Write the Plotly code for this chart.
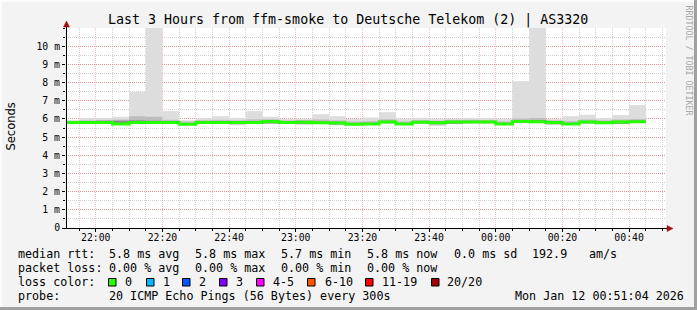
import plotly.graph_objects as go
import pandas as pd

# ---------------- data ----------------
title_text = "Last 3 Hours from ffm-smoke to Deutsche Telekom (2) | AS3320"
step_start = pd.date_range("2026-01-11 21:50:00", periods=35, freq="5min")
range_start = "2026-01-11 21:51:04"
range_end = "2026-01-12 00:51:04"

# smoke envelope per 5-min step (ms)
smoke_max = [5.93, 6.04, 6.04, 6.12, 7.49, 11.0, 6.43, 5.93, 6.04, 6.15,
             6.06, 6.43, 6.12, 6.00, 6.02, 6.26, 6.15, 6.00, 6.08, 6.37,
             6.02, 6.06, 6.02, 6.02, 6.06, 6.04, 6.02, 8.08, 11.0, 6.00,
             6.15, 6.23, 6.04, 6.21, 6.76]
smoke_hi = [5.89, 5.92, 5.93, 5.96, 6.15, 6.12, 5.95, 5.86, 5.93, 5.95,
            5.92, 5.98, 5.98, 5.92, 5.94, 5.97, 5.92, 5.86, 5.88, 5.98,
            5.86, 5.93, 5.90, 5.95, 5.95, 5.94, 5.86, 6.02, 6.05, 5.92,
            5.88, 5.97, 5.92, 5.97, 5.99]
dark_hi = [5.85, 5.86, 5.90, 5.90, 5.92, 5.90, 5.86, 5.77, 5.86, 5.86,
           5.86, 5.88, 5.92, 5.86, 5.88, 5.86, 5.84, 5.77, 5.78, 5.90,
           5.78, 5.87, 5.85, 5.89, 5.89, 5.89, 5.78, 5.93, 5.94, 5.86,
           5.78, 5.89, 5.85, 5.89, 5.91]
median_rtt = [5.80, 5.80, 5.80, 5.72, 5.80, 5.80, 5.80, 5.71, 5.80, 5.80,
              5.80, 5.80, 5.86, 5.80, 5.82, 5.79, 5.78, 5.71, 5.72, 5.83,
              5.72, 5.81, 5.79, 5.83, 5.83, 5.83, 5.72, 5.86, 5.85, 5.80,
              5.72, 5.83, 5.79, 5.83, 5.84]
dark_lo = [5.75, 5.75, 5.75, 5.68, 5.74, 5.74, 5.75, 5.67, 5.75, 5.75,
           5.74, 5.75, 5.75, 5.75, 5.72, 5.74, 5.70, 5.67, 5.68, 5.77,
           5.67, 5.76, 5.72, 5.74, 5.77, 5.77, 5.68, 5.79, 5.78, 5.72,
           5.67, 5.76, 5.73, 5.74, 5.78]
smoke_lo = [5.75, 5.75, 5.75, 5.68, 5.74, 5.74, 5.75, 5.67, 5.75, 5.75,
            5.70, 5.75, 5.75, 5.75, 5.71, 5.74, 5.69, 5.67, 5.68, 5.77,
            5.67, 5.76, 5.68, 5.73, 5.77, 5.77, 5.68, 5.78, 5.78, 5.70,
            5.67, 5.76, 5.73, 5.72, 5.78]
smoke_min = [5.74, 5.73, 5.73, 5.67, 5.72, 5.72, 5.73, 5.66, 5.73, 5.73,
             5.65, 5.73, 5.74, 5.73, 5.69, 5.72, 5.64, 5.66, 5.67, 5.75,
             5.66, 5.74, 5.60, 5.71, 5.75, 5.75, 5.67, 5.76, 5.76, 5.66,
             5.66, 5.74, 5.71, 5.70, 5.76]

y_tickvals = [0, 1, 2, 3, 4, 5, 6, 7, 8, 9, 10]
y_ticktext = ["0", "1 m", "2 m", "3 m", "4 m", "5 m", "6 m", "7 m", "8 m", "9 m", "10 m"]

legend_rows = [
    [("median rtt:", 16), ("5.8 ms avg", 107), ("5.8 ms max", 193), ("5.7 ms min", 279),
     ("5.8 ms now", 365), ("0.0 ms sd", 452), ("192.9", 530), ("am/s", 587)],
    [("packet loss:", 16), ("0.00 % avg", 107), ("0.00 % max", 193), ("0.00 % min", 279),
     ("0.00 % now", 365)],
    [("loss color:", 16)],
    [("probe:", 16), ("20 ICMP Echo Pings (56 Bytes) every 300s", 107),
     ("Mon Jan 12 00:51:04 2026", 513)],
]
loss_labels = ["0", "1", "2", "3", "4-5", "6-10", "11-19", "20/20"]
loss_colors = ["#26ff00", "#00b8ff", "#0059ff", "#7e00ff", "#ff00ff", "#ff5500", "#ff0000", "#a10000"]
loss_box_x = [108, 146, 182, 219, 256, 307, 365, 431]
loss_text_x = [123, 160.5, 197, 234, 271, 322.5, 380, 445]

# ---------------- geometry helpers (layout only) ----------------
L, R, T, B = 66, 666, 28, 228
W, H = 697, 310


def px(xp):
    return (xp - L) / (R - L)


def py(yp):
    return (B - yp) / (B - T)


MONO = "DejaVu Sans Mono"
centers = step_start + pd.Timedelta(minutes=2.5)
step_ms = 300000
MAJOR_GRID = "rgba(255,0,0,0.27)"
MINOR_GRID = "#d2d2d2"

fig = go.Figure()


def band(lo, hi, color):
    fig.add_trace(go.Bar(
        x=centers, base=lo, y=[h - l for l, h in zip(lo, hi)], width=step_ms,
        marker=dict(color=color, line=dict(width=0)), hoverinfo="skip", showlegend=False))


band(smoke_min, smoke_max, "#dddddd")
band(smoke_lo, smoke_hi, "#bdbdbd")
band(dark_lo, dark_hi, "#8a8a8a")

fig.add_trace(go.Scatter(
    x=list(step_start) + [step_start[-1] + pd.Timedelta(minutes=5)],
    y=median_rtt + [median_rtt[-1]],
    mode="lines", line=dict(color="#26ff00", width=3, shape="hv"),
    hoverinfo="skip", showlegend=False))

annotations = []
annotations.append(dict(text=title_text, x=px(347.5), y=py(19.5), xref="paper", yref="paper",
                        xanchor="center", yanchor="middle", showarrow=False,
                        font=dict(family=MONO, size=13.3, color="black")))
annotations.append(dict(text="Seconds", x=px(10.5), y=py(127), xref="paper", yref="paper",
                        xanchor="center", yanchor="middle", showarrow=False, textangle=-90,
                        font=dict(family="DejaVu Sans", size=11.5, color="black")))
annotations.append(dict(text="RRDTOOL / TOBI OETIKER", x=px(688.5), y=py(60), xref="paper", yref="paper",
                        xanchor="center", yanchor="middle", showarrow=False, textangle=90,
                        font=dict(family=MONO, size=8.3, color="#a8a8a8")))
for r, row in enumerate(legend_rows):
    ymid = 254.3 + 14 * r
    for txt, xp in row:
        annotations.append(dict(text=txt.replace(" ", "\u00a0"), x=px(xp), y=py(ymid), xref="paper", yref="paper",
                                xanchor="left", yanchor="middle", showarrow=False,
                                font=dict(family=MONO, size=11.7, color="black")))
shapes = []
for lab, col, bx, tx in zip(loss_labels, loss_colors, loss_box_x, loss_text_x):
    shapes.append(dict(type="rect", xref="paper", yref="paper", x0=px(bx + 0.5), x1=px(bx + 8), y0=py(286), y1=py(278.5),
                       fillcolor=col, line=dict(color="black", width=1)))
    annotations.append(dict(text=lab, x=px(tx), y=py(254.3 + 28), xref="paper", yref="paper",
                            xanchor="left", yanchor="middle", showarrow=False,
                            font=dict(family=MONO, size=11.7, color="black")))

# axis extensions and arrows
shapes.append(dict(type="line", xref="paper", yref="paper", x0=px(66.5), x1=px(66.5), y0=py(228), y1=py(24),
                   line=dict(color="black", width=1)))
shapes.append(dict(type="line", xref="paper", yref="paper", x0=px(63), x1=px(670), y0=py(228.5), y1=py(228.5),
                   line=dict(color="black", width=1)))
shapes.append(dict(type="path", xref="paper", yref="paper",
                   path=f"M {px(63.5)} {py(27)} L {px(69.5)} {py(27)} L {px(66.5)} {py(21)} Z",
                   fillcolor="#a01010", line=dict(color="#a01010", width=0.5)))
shapes.append(dict(type="path", xref="paper", yref="paper",
                   path=f"M {px(667)} {py(225.5)} L {px(667)} {py(231.5)} L {px(673)} {py(228.5)} Z",
                   fillcolor="#a01010", line=dict(color="#a01010", width=0.5)))
# frame
shapes.append(dict(type="rect", xref="paper", yref="paper", x0=px(0), x1=px(W), y0=py(H), y1=py(H - 3),
                   fillcolor="#a0a0a0", line=dict(width=0), layer="below"))
shapes.append(dict(type="rect", xref="paper", yref="paper", x0=px(W - 3), x1=px(W), y0=py(H), y1=py(0),
                   fillcolor="#a0a0a0", line=dict(width=0), layer="below"))
shapes.append(dict(type="rect", xref="paper", yref="paper", x0=px(0), x1=px(W - 3), y0=py(2), y1=py(0),
                   fillcolor="#fcfcfc", line=dict(width=0), layer="below"))
shapes.append(dict(type="rect", xref="paper", yref="paper", x0=px(0), x1=px(2), y0=py(H - 3), y1=py(0),
                   fillcolor="#fcfcfc", line=dict(width=0), layer="below"))

fig.update_layout(
    width=W, height=H, margin=dict(l=L, r=W - R, t=T, b=H - B),
    paper_bgcolor="#f3f3f3", plot_bgcolor="white", barmode="overlay", showlegend=False,
    annotations=annotations, shapes=shapes,
    xaxis=dict(type="date", range=[range_start, range_end], tick0="2026-01-11 22:00:00", dtick=1200000,
               tickformat="%H:%M", showgrid=True, gridcolor=MAJOR_GRID, griddash="1px,1px",
               gridwidth=1, ticks="outside", ticklen=3, tickcolor="black", showline=False, zeroline=False,
               ticklabelstandoff=-3,
               tickfont=dict(family=MONO, size=9.8, color="black"),
               minor=dict(dtick=300000, tick0="2026-01-11 21:55:00", showgrid=True, gridcolor=MINOR_GRID,
                          griddash="1px,1px", ticks="outside", ticklen=2, tickcolor="black")),
    yaxis=dict(range=[0, 11], tickvals=y_tickvals, ticktext=y_ticktext, showgrid=True,
               gridcolor=MAJOR_GRID, griddash="1px,1px", gridwidth=1, zeroline=False,
               ticks="outside", ticklen=3, tickcolor="black", showline=False,
               tickfont=dict(family=MONO, size=9.8, color="black"),
               minor=dict(dtick=0.5, tick0=0, showgrid=True, gridcolor=MINOR_GRID, griddash="1px,1px",
                          ticks="outside", ticklen=2, tickcolor="black")),
)

fig.write_html("out.html")
